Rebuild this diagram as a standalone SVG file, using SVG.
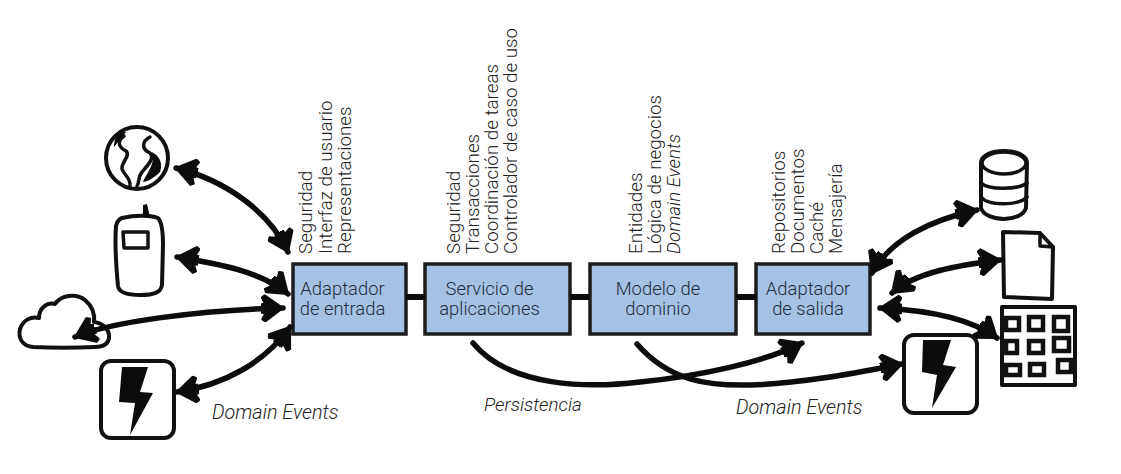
<svg xmlns="http://www.w3.org/2000/svg" width="1121" height="474" viewBox="0 0 1121 474">
<style>
text{font-family:"Roboto","Liberation Sans",Arial,sans-serif;font-weight:300;font-size:18.800px;fill:#222}
.it{font-style:italic}
.wide{font-size:19.800px}
.box{fill:#a4c2e4;stroke:#1c1c1c;stroke-width:3.5}
.lbl{fill:#1f2e3e;text-anchor:middle;font-size:18.400px}
.link{fill:none;stroke:#0c0c0c;stroke-width:6}
.arr{fill:none;stroke:#0c0c0c;stroke-width:5.500;stroke-linecap:round;marker-end:url(#h)}
.two{marker-start:url(#h)}
.ic{fill:#fff;stroke:#111;stroke-width:4;stroke-linejoin:round;stroke-linecap:round}
.thin{fill:none;stroke:#111;stroke-width:3.5;stroke-linecap:round;stroke-linejoin:round}
.sq{fill:none;stroke:#111;stroke-width:4.500}
.blt{fill:#0c0c0c}
</style>
<defs>
<marker id="h" markerUnits="userSpaceOnUse" viewBox="0 -14 24 28" refX="22" refY="0" markerWidth="24" markerHeight="28" orient="auto-start-reverse">
<path d="M22 0L4-13 1-11 4-5 0-4 0 4 4 5 1 11 4 13Z" fill="#0c0c0c" stroke="#0c0c0c" stroke-width="2" stroke-linejoin="round"/>
</marker>
</defs>
<g id="n-globe">
<circle class="ic" cx="137" cy="158" r="31" stroke-width="5.500"/>
<path class="thin" stroke-width="4" d="M124 136C117 141 118 147 126 151C131 156 121 162 122 169C124 175 131 178 130 186"/>
<path class="thin" stroke-width="4" d="M150 137C142 141 141 149 150 153C155 158 148 165 142 172C137 178 140 182 137 186"/>
<path class="blt" d="M152 152C160 156 163 164 160 172C154 178 147 182 143 182C146 174 156 164 152 152ZM121 130L126 132 114 147C114 140 117 134 121 130Z"/>
</g>
<g id="n-phone">
<path class="ic" d="M122 218C135 215 150 215 158 218C162 222 163 232 163 245L162 285C161 292 155 295 140 295C128 295 119 293 118 286C116 265 115 240 116 226C117 222 119 219 122 218Z"/>
<path class="thin" d="M123 232H148V248H124Z"/>
<path class="blt" d="M143 205L147 204L150 217H143Z"/>
</g>
<g id="n-cloud">
<path class="ic" d="M33 347C22 346 18 338 20 329C23 320 31 316 39 318C39 308 47 302 55 304C61 295 76 293 85 300C92 306 95 314 94 322C103 323 110 330 109 338C108 345 102 347 95 347C75 348 52 348 33 347Z"/>
</g>
<g id="n-events-in">
<rect class="ic" x="101" y="361" width="73" height="77" rx="10" stroke-width="3"/>
<path class="blt" d="M122 367H148L140 392 153 393 130 435 135 403 119 402Z"/>
</g>
<g id="n-adapter-in">
<rect class="box" x="293" y="264" width="113" height="70"/>
<text class="lbl" x="342.500" y="295">Adaptador</text>
<text class="lbl" x="342.500" y="315">de entrada</text>
</g>
<g id="n-app-service">
<rect class="box" x="425" y="264" width="145" height="70"/>
<text class="lbl" x="489.500" y="295">Servicio de</text>
<text class="lbl" x="489.500" y="315">aplicaciones</text>
</g>
<g id="n-domain-model">
<rect class="box" x="590" y="264" width="146" height="70"/>
<text class="lbl" x="658" y="295">Modelo de</text>
<text class="lbl" x="658" y="315">dominio</text>
</g>
<g id="n-adapter-out">
<rect class="box" x="756" y="264" width="114" height="70"/>
<text class="lbl" x="808" y="295">Adaptador</text>
<text class="lbl" x="808" y="315">de salida</text>
</g>
<g id="n-notes-in">
<text transform="translate(312 254) rotate(-90)">Seguridad</text>
<text transform="translate(331.500 254) rotate(-90)">Interfaz de usuario</text>
<text transform="translate(351 254) rotate(-90)">Representaciones</text>
</g>
<g id="n-notes-app">
<text transform="translate(460 254) rotate(-90)">Seguridad</text>
<text transform="translate(479 254) rotate(-90)">Transacciones</text>
<text transform="translate(498 254) rotate(-90)">Coordinación de tareas</text>
<text transform="translate(517 254) rotate(-90)">Controlador de caso de uso</text>
</g>
<g id="n-notes-domain">
<text transform="translate(642 254) rotate(-90)">Entidades</text>
<text transform="translate(661 254) rotate(-90)">Lógica de negocios</text>
<text class="it" transform="translate(680 254) rotate(-90)">Domain Events</text>
</g>
<g id="n-notes-out">
<text transform="translate(785 254) rotate(-90)">Repositorios</text>
<text transform="translate(804 254) rotate(-90)">Documentos</text>
<text transform="translate(823 254) rotate(-90)">Caché</text>
<text transform="translate(842 254) rotate(-90)">Mensajería</text>
</g>
<g id="n-db">
<path class="ic" d="M981 163C981 155 992 151 1004 151C1016 151 1027 155 1027 163L1026 208C1024 215 1014 219 1004 219C994 219 983 215 981 208Z"/>
<ellipse class="thin" cx="1004" cy="163" rx="22" ry="11"/>
<path class="thin" d="M981 183C988 190 1018 190 1027 183M981 197C988 206 1018 206 1027 197"/>
</g>
<g id="n-doc">
<path class="ic" d="M1003 232L1040 233 1053 247 1052 299 1004 297Z"/>
<path class="thin" stroke-width="2" d="M1040 233L1040 246 1053 247"/>
</g>
<g id="n-grid">
<rect class="ic" x="1002" y="307" width="73" height="78" stroke-width="3"/>
<path class="sq" d="M1006 318H1019V330H1006ZM1029 317H1043V330H1029ZM1054 317H1068V331H1054ZM1006 341H1017V353H1006ZM1029 341H1043V353H1029ZM1054 338H1069V351H1054ZM1006 365H1020V375H1006ZM1030 364H1044V375H1030ZM1058 360H1071V372H1058Z"/>
</g>
<g id="n-events-out">
<rect class="ic" x="904" y="335" width="73" height="78" rx="10" stroke-width="3"/>
<path class="blt" d="M923 340H951L943 365 956 367 932 408 937 375 922 372Z"/>
</g>
<g id="labels">
<text class="it wide" x="212" y="419">Domain Events</text>
<text class="it" x="484" y="411">Persistencia</text>
<text class="it wide" x="736" y="414">Domain Events</text>
</g>
<g id="connectors">
<path class="link" d="M406 297H425M570 297H590M736 297H756"/>
<path class="arr two" d="M176 168C225 180 270 212 288 252"/>
<path class="arr two" d="M177 257C220 264 262 272 288 294"/>
<path class="arr two" d="M75 337C110 322 200 310 283 308"/>
<path class="arr two" d="M177 392C225 385 265 362 290 327"/>
<path class="arr two" d="M872 273C890 240 930 220 977 210"/>
<path class="arr two" d="M892 293C915 272 960 265 1000 260"/>
<path class="arr two" d="M880 308C925 310 970 318 997 338"/>
<path class="arr" d="M473 343C510 388 590 388 640 382C700 376 765 362 802 343"/>
<path class="arr" d="M637 344C670 382 710 386 750 385C800 384 860 372 902 364"/>
</g>
</svg>
